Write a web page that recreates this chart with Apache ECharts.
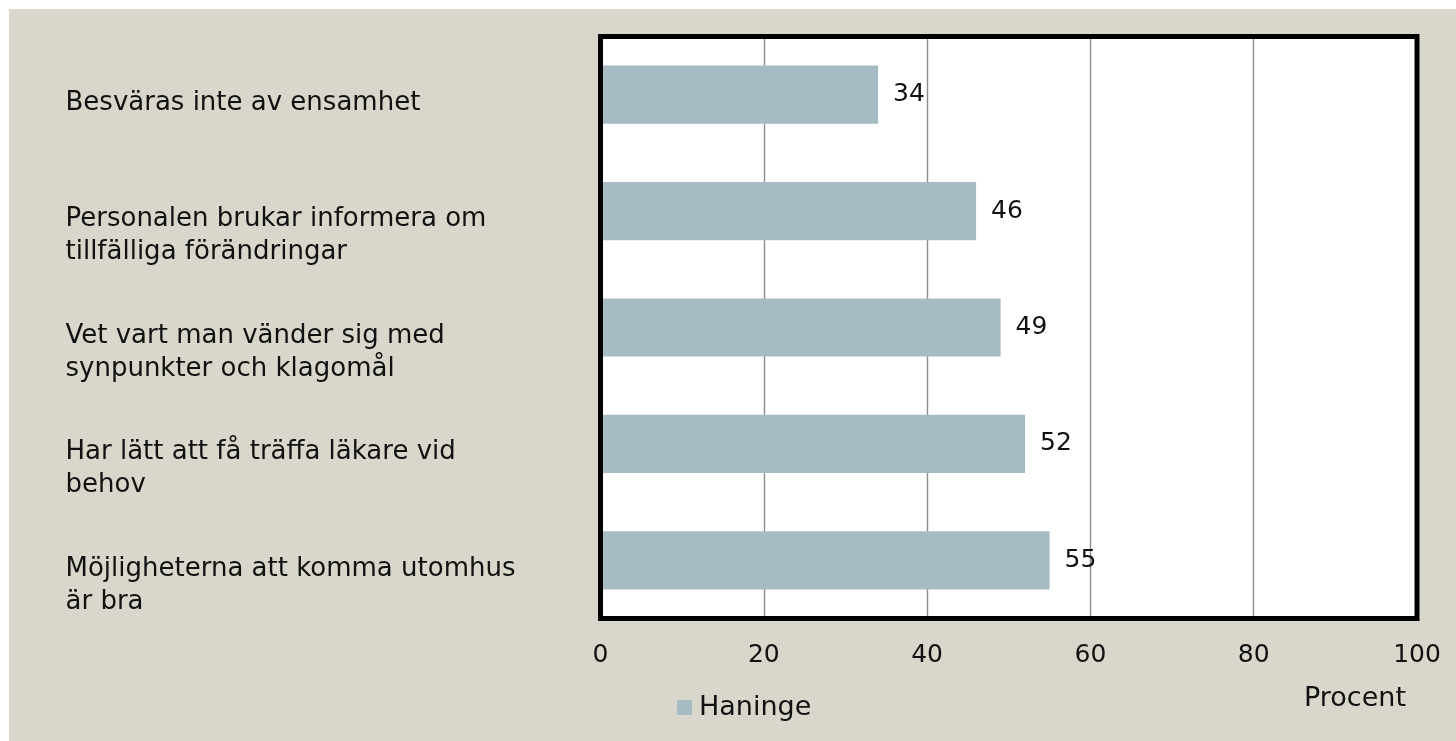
<!DOCTYPE html>
<html>
<head>
<meta charset="utf-8">
<script src="https://cdn.jsdelivr.net/npm/echarts@6/dist/echarts.min.js"></script>
<style>
html,body{margin:0;padding:0;background:#ffffff;}
#wrap{position:absolute;left:9px;top:9px;width:1447px;height:732px;background:#d9d7cb;}
#chart{width:1447px;height:732px;}
</style>
</head>
<body>
<div id="wrap"><div id="chart"></div></div>
<script>
const categories = [
  "Besväras inte av ensamhet",
  "Personalen brukar informera om\ntillfälliga förändringar",
  "Vet vart man vänder sig med\nsynpunkter och klagomål",
  "Har lätt att få träffa läkare vid\nbehov",
  "Möjligheterna att komma utomhus\när bra"
];
const seriesName = "Haninge";
const values = [34, 46, 49, 52, 55];
const xTicks = [0, 20, 40, 60, 80, 100];
const axisTitle = "Procent";

const FONT = "DejaVu Sans";
const W = 1447, H = 732;
const G = {left: 591.5, top: 27.5, right: 39, bottom: 122.5};
const chart = echarts.init(document.getElementById('chart'), null, {renderer: 'canvas'});
chart.setOption({
  animation: false,
  backgroundColor: 'transparent',
  textStyle: {fontFamily: FONT, color: '#111111'},
  title: {
    text: axisTitle, left: 1295, top: 676, padding: 0,
    textStyle: {fontFamily: FONT, fontSize: 27, fontWeight: 'normal', color: '#111111'}
  },
  legend: {
    data: [seriesName], left: 668, top: 685, padding: 0,
    itemWidth: 15, itemHeight: 15, icon: 'rect', itemGap: 10,
    textStyle: {fontFamily: FONT, fontSize: 27, color: '#111111', padding: [0,0,0,2]}
  },
  grid: {
    left: G.left, top: G.top, right: G.right, bottom: G.bottom,
    show: true, backgroundColor: '#ffffff', borderWidth: 0,
    containLabel: false
  },
  graphic: [{
    type: 'rect', z: 100, silent: true,
    shape: {x: G.left, y: G.top, width: W - G.right - G.left, height: H - G.bottom - G.top},
    style: {fill: 'none', stroke: '#000000', lineWidth: 5}
  }],
  xAxis: {
    type: 'value', min: xTicks[0], max: xTicks[xTicks.length-1], interval: 20,
    axisLine: {show: false}, axisTick: {show: false},
    splitLine: {show: true, lineStyle: {color: '#8c8c8c', width: 1.4}},
    axisLabel: {fontFamily: FONT, fontSize: 25, color: '#111111', margin: 24}
  },
  yAxis: {
    type: 'category', data: categories, inverse: true,
    axisLine: {show: false}, axisTick: {show: false},
    axisLabel: {
      fontFamily: FONT, fontSize: 26, color: '#111111', align: 'left',
      margin: 535, lineHeight: 33, verticalAlign: 'top', padding: [-8, 0, 0, 0]
    }
  },
  series: [{
    name: seriesName, type: 'bar', data: values, barWidth: '50%',
    itemStyle: {color: '#a7bbc5'},
    label: {show: true, position: 'right', distance: 15, fontFamily: FONT, fontSize: 25, color: '#111111'}
  }]
});
</script>
</body>
</html>
